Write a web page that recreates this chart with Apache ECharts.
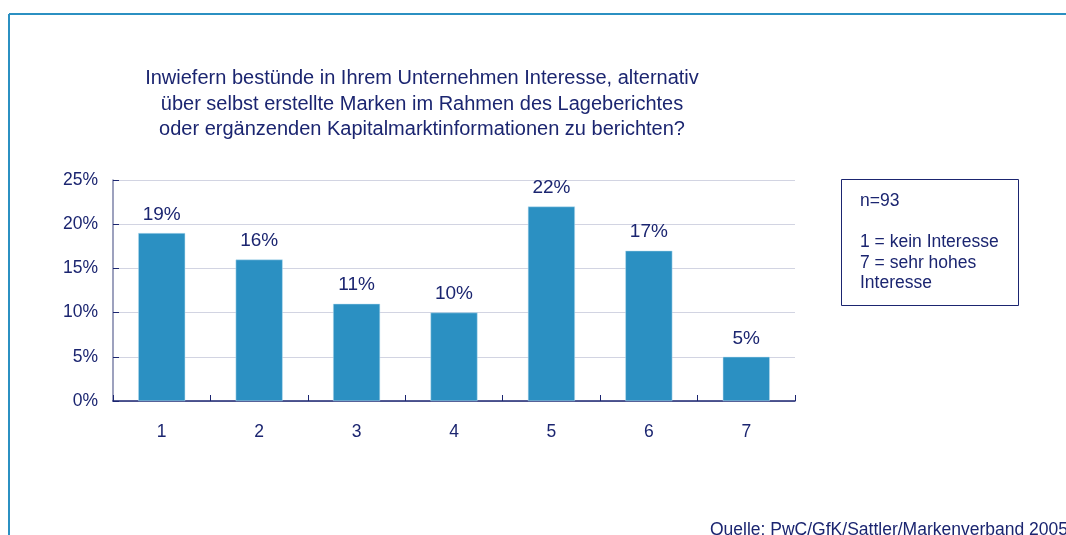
<!DOCTYPE html>
<html>
<head>
<meta charset="utf-8">
<script src="https://cdn.jsdelivr.net/npm/echarts@6/dist/echarts.min.js"></script>
<style>
  html, body { margin: 0; padding: 0; background: #fff; }
  #main { width: 1066px; height: 535px; }
</style>
</head>
<body>
<div id="main"></div>
<script>
// Interessestufen 1..7 und Anteile in %
var categories = ['1', '2', '3', '4', '5', '6', '7'];
var shares = [19, 16, 11, 10, 22, 17, 5];
var yTicks = [0, 5, 10, 15, 20, 25];

var navy = '#1b2570';
var barBlue = '#2b90c2';
var font = 'Liberation Sans, Arial, sans-serif';

var chart = echarts.init(document.getElementById('main'));

var option = {
    backgroundColor: '#fff',
    animation: false,
    title: {
        text: 'Inwiefern bestünde in Ihrem Unternehmen Interesse, alternativ\nüber selbst erstellte Marken im Rahmen des Lageberichtes\noder ergänzenden Kapitalmarktinformationen zu berichten?',
        left: 417,
        top: 61,
        textAlign: 'center',
        textStyle: {
            color: navy,
            fontFamily: font,
            fontSize: 20,
            fontWeight: 'normal',
            lineHeight: 25.5
        }
    },
    grid: { left: 113, right: 271, top: 180, bottom: 134 },
    xAxis: {
        type: 'category',
        data: categories,
        axisLine: { lineStyle: { color: navy, width: 1.5 } },
        axisTick: { show: true, inside: true, length: 6, lineStyle: { color: navy } },
        axisLabel: { color: navy, fontFamily: font, fontSize: 17.5, margin: 22 }
    },
    yAxis: {
        type: 'value',
        min: yTicks[0],
        max: yTicks[yTicks.length - 1],
        interval: 5,
        axisLine: { show: true, lineStyle: { color: '#7d82a8', width: 1.5 } },
        axisTick: { show: true, inside: true, length: 6, lineStyle: { color: navy } },
        splitLine: { lineStyle: { color: '#d2d4e2', width: 1 } },
        axisLabel: {
            color: navy, fontFamily: font, fontSize: 17.5, margin: 15,
            formatter: function (v) { return v + '%'; }
        }
    },
    series: [{
        type: 'bar',
        data: shares,
        barWidth: 47,
        itemStyle: { color: barBlue, borderColor: '#bfe0f0', borderWidth: 0.5 },
        label: {
            show: true,
            position: 'top',
            distance: 9,
            color: navy,
            fontFamily: font,
            fontSize: 19,
            formatter: '{c}%'
        }
    }],
    graphic: [
        // Rahmen oben und links
        { type: 'line', shape: { x1: 9, y1: 14, x2: 1066, y2: 14 }, style: { stroke: barBlue, lineWidth: 2 } },
        { type: 'line', shape: { x1: 9, y1: 14, x2: 9, y2: 535 }, style: { stroke: barBlue, lineWidth: 2 } },
        // Legendenkasten
        { type: 'rect', shape: { x: 841.5, y: 179.5, width: 177, height: 126 }, style: { fill: '#fff', stroke: navy, lineWidth: 1 } },
        { type: 'text', left: 860, top: 192, style: { text: 'n=93', fill: navy, font: '17.5px ' + font } },
        { type: 'text', left: 860, top: 232, style: { text: '1 = kein Interesse\n7 = sehr hohes\nInteresse', fill: navy, font: '17.5px ' + font, lineHeight: 20.5 } },
        // Quelle
        { type: 'text', left: 710, top: 521, style: { text: 'Quelle: PwC/GfK/Sattler/Markenverband 2005', fill: navy, font: '17.5px ' + font } }
    ]
};

chart.setOption(option);
</script>
</body>
</html>
